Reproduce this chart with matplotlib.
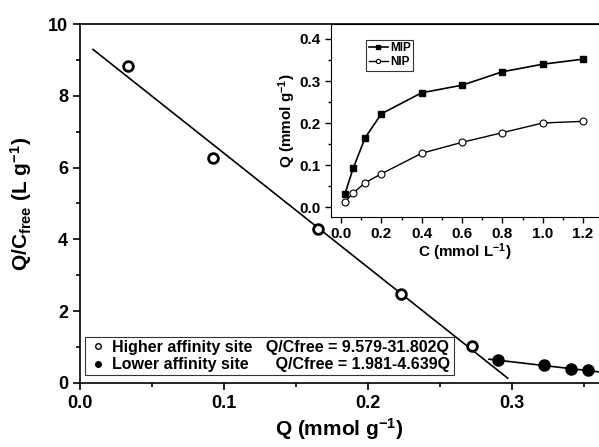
import matplotlib
matplotlib.use("Agg")
import matplotlib.pyplot as plt
import numpy as np
from matplotlib.lines import Line2D
from matplotlib.ticker import MultipleLocator

plt.rcParams['font.family'] = ['Liberation Sans', 'DejaVu Sans']
plt.rcParams['font.weight'] = 'bold'
plt.rcParams['mathtext.fontset'] = 'custom'
plt.rcParams['mathtext.rm'] = 'Liberation Sans:bold'
plt.rcParams['mathtext.bf'] = 'Liberation Sans:bold'
plt.rcParams['mathtext.default'] = 'bf'

# Scatchard data
q_high = [0.033, 0.092, 0.165, 0.223, 0.272]
qc_high = [8.82, 6.28, 4.30, 2.48, 1.02]
q_low = [0.290, 0.322, 0.341, 0.353]
qc_low = [0.63, 0.50, 0.40, 0.35]
# fitted lines
fit_high = (9.579, -31.802)
fit_low = (1.981, -4.639)

# inset isotherm data
c_vals = [0.02, 0.06, 0.12, 0.2, 0.4, 0.6, 0.8, 1.0, 1.2]
q_mip = [0.032, 0.092, 0.165, 0.222, 0.272, 0.290, 0.322, 0.340, 0.352]
q_nip = [0.012, 0.033, 0.058, 0.079, 0.128, 0.154, 0.177, 0.200, 0.204]

fig = plt.figure(figsize=(5.99, 4.47), dpi=100)
ax = fig.add_axes([0.1336, 0.1432, 0.8664, 0.8031])

x1 = np.array([0.009, 0.297])
ax.plot(x1, fit_high[0] + fit_high[1] * x1, color='black', lw=1.2)
x2 = np.array([0.284, 0.365])
ax.plot(x2, fit_low[0] + fit_low[1] * x2, color='black', lw=1.2)
ax.plot(q_high, qc_high, 'o', mfc='white', mec='black', mew=2, ms=7, ls='none')
ax.plot(q_low, qc_low, 'o', color='black', ms=8, ls='none')

ax.set_xlim(0, 0.3604)
ax.set_ylim(0, 10)
ax.xaxis.set_major_locator(MultipleLocator(0.1))
ax.xaxis.set_minor_locator(MultipleLocator(0.05))
ax.yaxis.set_major_locator(MultipleLocator(2))
ax.yaxis.set_minor_locator(MultipleLocator(1))
ax.tick_params(which='major', length=5, width=1.2, labelsize=13)
ax.tick_params(which='minor', length=3, width=1.2)
ax.set_xticklabels([f'{v:.1f}' for v in ax.get_xticks()])
for lbl in ax.get_xticklabels() + ax.get_yticklabels():
    lbl.set_fontweight('bold')
ax.spines['right'].set_visible(False)
for s in ['left', 'bottom', 'top']:
    ax.spines[s].set_linewidth(1.2)
ax.set_xlabel('Q (mmol g$^{-1}$)', fontsize=15, fontweight='bold', labelpad=3)
ax.set_ylabel('Q/C$_{free}$ (L g$^{-1}$)', fontsize=15, fontweight='bold', labelpad=10)

handles = [Line2D([], [], marker='o', mfc='white', mec='black', ms=4, ls='none'),
           Line2D([], [], marker='o', color='black', ms=4, ls='none')]
labels = ['Higher affinity site   Q/Cfree = 9.579-31.802Q',
          'Lower affinity site      Q/Cfree = 1.981-4.639Q']
leg = ax.legend(handles, labels, loc='lower left', bbox_to_anchor=(0.004, 0.012),
                prop={'size': 11.5, 'weight': 'bold'}, frameon=True, fancybox=False,
                edgecolor='black', handletextpad=0.3, borderpad=0.2,
                labelspacing=0.15, handlelength=1.2, borderaxespad=0.2)
leg.get_frame().set_linewidth(0.8)

# inset
ins = fig.add_axes([0.5526, 0.5145, 0.4474, 0.4318])
ins.plot(c_vals, q_mip, '-s', color='black', ms=5, lw=1.2, label='MIP')
ins.plot(c_vals, q_nip, '-o', color='black', mfc='white', ms=5, lw=1, mew=0.8, label='NIP')
ins.set_xlim(-0.0496, 1.279)
ins.set_ylim(-0.0238, 0.4357)
ins.xaxis.set_major_locator(MultipleLocator(0.2))
ins.xaxis.set_minor_locator(MultipleLocator(0.1))
ins.yaxis.set_major_locator(MultipleLocator(0.1))
ins.yaxis.set_minor_locator(MultipleLocator(0.05))
ins.tick_params(which='major', length=4, width=1, labelsize=11)
ins.tick_params(which='minor', length=2, width=1)
ins.set_xticklabels([f'{v:.1f}' for v in ins.get_xticks()])
ins.set_yticklabels([f'{v:.1f}' for v in ins.get_yticks()])
for lbl in ins.get_xticklabels() + ins.get_yticklabels():
    lbl.set_fontweight('bold')
ins.spines['right'].set_visible(False)
ins.set_xlabel('C (mmol L$^{-1}$)', fontsize=11, fontweight='bold', labelpad=0)
ins.set_ylabel('Q (mmol g$^{-1}$)', fontsize=11, fontweight='bold', labelpad=1)
ileg = ins.legend(loc='upper left', bbox_to_anchor=(0.11, 0.95), prop={'size': 8.5, 'weight': 'bold'},
                  frameon=True, fancybox=False, edgecolor='black', handlelength=1.6,
                  markerscale=0.6, borderpad=0.2, labelspacing=0.2, handletextpad=0.2)
ileg.get_frame().set_linewidth(0.8)

fig.savefig('out.png', dpi=100)
